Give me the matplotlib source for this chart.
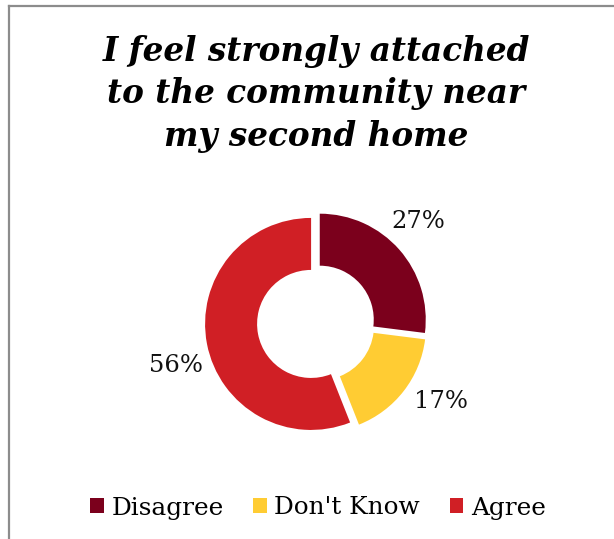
import matplotlib
matplotlib.use("Agg")
import matplotlib.pyplot as plt
from matplotlib.lines import Line2D

title = "I feel strongly attached\nto the community near\nmy second home"
categories = ["Disagree", "Don't Know", "Agree"]
shares = [27, 17, 56]
colors = ["#7B001C", "#FFCC33", "#D01F25"]

W, H = 614, 539
fig = plt.figure(figsize=(W / 100, H / 100), dpi=100)
fig.patch.set_facecolor("white")

# axes in pixel units so the donut geometry is easy to place
ax = fig.add_axes([0, 0, 1, 1])

R = 106
ring = 52
cx, cy = 316, H - 323
wedges, _, autotexts = ax.pie(
    shares,
    colors=colors,
    startangle=90,
    counterclock=False,
    radius=R,
    center=(cx, cy),
    explode=[5, 5, 5],
    wedgeprops=dict(width=ring, linewidth=0),
    autopct="%1.0f%%",
    pctdistance=1.33,
    textprops=dict(family="DejaVu Serif", fontsize=17.5, color="#111111"),
    frame=True,
)
ax.set_xlim(0, W)
ax.set_ylim(0, H)
ax.set_aspect("equal")
ax.axis("off")

# percentage labels sit just outside the ring, offset from the centre
label_offsets = [(102, 102), (125, -78), (-140, -43)]
for t, (dx, dy) in zip(autotexts, label_offsets):
    t.set_position((cx + dx, cy + dy))

fig.text(0.515, 1 - 94 / H, title, ha="center", va="center",
         family="DejaVu Serif", fontweight="bold", fontstyle="italic",
         fontsize=23.5, linespacing=1.38, color="black")

leg = fig.legend(
    wedges, categories, loc="center", bbox_to_anchor=(0.518, 1 - 508 / H),
    ncol=3, frameon=False, handlelength=0.55, handleheight=0.55,
    handletextpad=0.3, columnspacing=1.2,
    prop=dict(family="DejaVu Serif", size=17.8),
)

# outer frame of the chart area
fig.add_artist(Line2D([9 / W, 9 / W], [0, 1 - 6 / H], transform=fig.transFigure,
                      color="#8c8c8c", linewidth=1.6))
fig.add_artist(Line2D([9 / W, 1], [1 - 6 / H, 1 - 6 / H], transform=fig.transFigure,
                      color="#8c8c8c", linewidth=1.6))

fig.savefig("out.png", dpi=100, facecolor="white")
